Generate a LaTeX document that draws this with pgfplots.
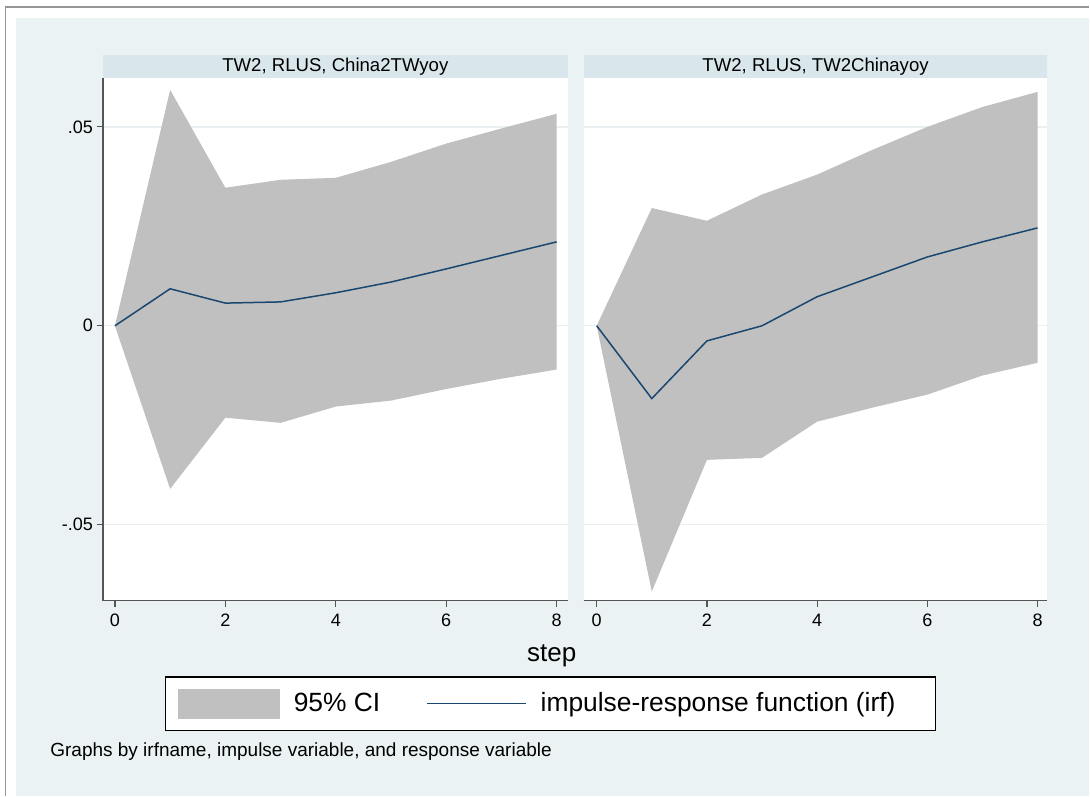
\documentclass[border=0pt]{standalone}
\usepackage{pgfplots}
\pgfplotsset{compat=1.18}
\usepackage{pgfplotstable}
\usepackage{fontspec}
\setmainfont{Liberation Sans}
\definecolor{bgblue}{RGB}{234,242,243}
\definecolor{stripblue}{RGB}{217,230,235}
\definecolor{cigray}{RGB}{192,192,192}
\definecolor{irfnavy}{RGB}{26,71,111}
\definecolor{gridc}{RGB}{234,240,242}
\definecolor{framec}{RGB}{150,150,150}
\definecolor{axisc}{RGB}{85,85,85}

% impulse-response function, left panel (China2TWyoy)
\pgfplotstableread{
step irf
0 0
1 0.0093
2 0.0057
3 0.0060
4 0.0083
5 0.0110
6 0.0143
7 0.0177
8 0.0211
}\leftirf
% 95% CI band, left panel: upper bound 0..8, then lower bound 8..0
\pgfplotstableread{
step ci
0 0
1 0.0593
2 0.0347
3 0.0367
4 0.0372
5 0.0412
6 0.0458
7 0.0496
8 0.0533
8 -0.0110
7 -0.0133
6 -0.0159
5 -0.0188
4 -0.0203
3 -0.0244
2 -0.0231
1 -0.0410
0 0
}\leftci

% impulse-response function, right panel (TW2Chinayoy)
\pgfplotstableread{
step irf
0 0
1 -0.0183
2 -0.0038
3 0.0000
4 0.0073
5 0.0123
6 0.0173
7 0.0211
8 0.0246
}\rightirf
% 95% CI band, right panel
\pgfplotstableread{
step ci
0 0
1 0.0296
2 0.0264
3 0.0330
4 0.0380
5 0.0442
6 0.0500
7 0.0550
8 0.0588
8 -0.0093
7 -0.0125
6 -0.0173
5 -0.0206
4 -0.0241
3 -0.0332
2 -0.0337
1 -0.0668
0 0
}\rightci

\pgfplotsset{irfpanel/.style={
  scale only axis, height=261.5pt,
  ymin=-0.0691, ymax=0.0623,
  xtick={0,2,4,6,8}, ytick={-0.05,0,0.05},
  axis x line*=bottom, axis y line*=left,
  every outer x axis line/.append style={-},
  every outer y axis line/.append style={-},
  axis line style={-, draw=axisc, line width=0.7pt},
  tick align=outside, major tick length=3pt,
  tick style={axisc, line width=0.6pt},
  ymajorgrids, major grid style={gridc, line width=0.7pt},
  axis background/.style={fill=white},
  tick label style={font=\fontsize{9}{10}\selectfont},
  /pgf/number format/assume math mode=true,
  scaled y ticks=false,
  yticklabel style={/pgf/number format/fixed, /pgf/number format/skip 0.=true, xshift=1.5pt},
}}

\begin{document}
\begin{tikzpicture}
\fill[white] (0pt,0pt) rectangle (545pt,398pt);
\draw[framec, line width=0.6pt] (2.75pt,0pt) -- (2.75pt,394.5pt) -- (545pt,394.5pt);
\fill[bgblue] (8pt,0pt) rectangle (545pt,389pt);
\fill[stripblue] (51.5pt,359pt) rectangle (284pt,370.5pt);
\fill[stripblue] (292pt,359pt) rectangle (524pt,370.5pt);
\node[font=\fontsize{9.3}{11}\selectfont] at (167.75pt,364.75pt) {TW2, RLUS, China2TWyoy};
\node[font=\fontsize{9.3}{11}\selectfont] at (408pt,364.75pt) {TW2, RLUS, TW2Chinayoy};

\begin{axis}[irfpanel, at={(51.5pt,97.5pt)}, anchor=south west, width=232.5pt,
  xmin=-0.217, xmax=8.2,
  legend columns=2,
  legend cell align=left,
  legend style={at={(0.9634,-0.197)}, anchor=center, draw=black, line width=0.6pt, fill=white,
    inner xsep=6pt, inner ysep=5.75pt, font=\fontsize{13.2}{15}\selectfont,
    /tikz/every odd column/.append style={column sep=5pt},
    /tikz/every even column/.append style={column sep=21pt}},
]
\addplot[draw=none, fill=cigray, legend image code/.code={\fill[cigray] (0pt,-7.5pt) rectangle (51pt,7.5pt);}] table[x=step,y=ci]{\leftci} -- cycle;
\addlegendentry{95\% CI}
\addplot[irfnavy, line width=0.75pt, legend image code/.code={\draw[irfnavy, line width=0.75pt] (0pt,0pt) -- (49.5pt,0pt);}] table[x=step,y=irf]{\leftirf};
\addlegendentry{impulse-response function (irf)\hspace*{12pt}}
\end{axis}

\begin{axis}[irfpanel, at={(292pt,97.5pt)}, anchor=south west, width=232pt,
  xmin=-0.236, xmax=8.18,
  y axis line style={draw=none}, ytick style={draw=none}, yticklabels={},
]
\addplot[draw=none, fill=cigray] table[x=step,y=ci]{\rightci} -- cycle;
\addplot[irfnavy, line width=0.75pt] table[x=step,y=irf]{\rightirf};
\end{axis}

\node[font=\fontsize{13}{15}\selectfont] at (276pt,70pt) {step};
\node[font=\fontsize{9.5}{11}\selectfont, anchor=west, inner sep=0pt] at (25pt,22pt) {Graphs by irfname, impulse variable, and response variable};
\end{tikzpicture}
\end{document}
